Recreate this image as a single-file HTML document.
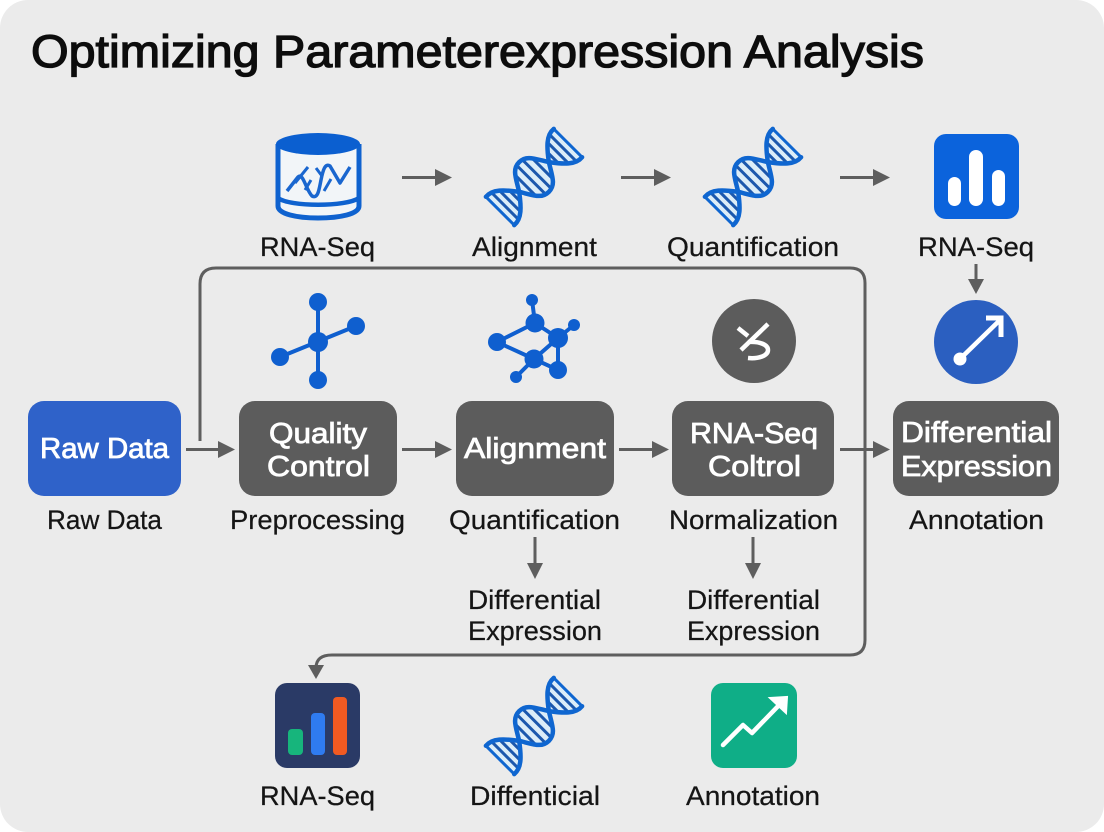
<!DOCTYPE html>
<html><head><meta charset="utf-8"><style>
html,body{margin:0;padding:0;background:#fff;width:1104px;height:832px;overflow:hidden}
svg{display:block}
text{font-family:"Liberation Sans",sans-serif}
.l{font-size:27px;fill:#151515;stroke:#151515;stroke-width:.25}
.b{font-size:29px;fill:#fff;stroke:#fff;stroke-width:.8}
.c{fill:none;stroke:#5e5e5e;stroke-width:3;stroke-linejoin:round}
.h{fill:#5e5e5e}
.m{stroke:#0f5fcf;stroke-width:4;fill:none}
.mn{fill:#0f5fcf}
</style></head><body>
<svg width="1104" height="832" viewBox="0 0 1104 832" xmlns="http://www.w3.org/2000/svg">
<defs>
<g id="dna" transform="rotate(-45)">
<path d="M-48,20 C-38,21 -30,12 -21,0 C-30,-12 -38,-21 -48,-20Z M-21,0 C-13,-13 -10,-21 0,-21 C10,-21 13,-13 21,0 C13,13 10,21 0,21 C-10,21 -13,13 -21,0Z M21,0 C30,12 38,21 48,20 L48,-20 C38,-21 30,-12 21,0Z" fill="#dcedf8"/>
<g stroke="#1c58ad" stroke-width="3" fill="none">
<path d="M-41,-19V19M-34,-15V15M-27,-8V8M-12,-14V14M-4,-20V20M4,-20V20M12,-14V14M27,-8V8M34,-15V15M41,-19V19"/>
</g>
<g stroke="#0f66d0" stroke-width="4.500" fill="none" stroke-linecap="round">
<path d="M-48,-20 C-38,-21 -30,-12 -21,0 C-13,13 -10,21 0,21 C10,21 13,13 21,0 C30,-12 38,-21 48,-20"/>
<path d="M-48,20 C-38,21 -30,12 -21,0 C-13,-13 -10,-21 0,-21 C10,-21 13,-13 21,0 C30,12 38,21 48,20"/>
<path d="M-48,-20V20M48,-20V20" stroke-width="3"/>
</g>
</g>
</defs>
<rect x="0" y="0" width="1104" height="832" rx="28" fill="#ebebeb"/>

<text x="31" y="67" font-size="45" fill="#0d0d0d" stroke="#0d0d0d" stroke-width="1.300" textLength="893" lengthAdjust="spacingAndGlyphs">Optimizing Parameterexpression Analysis</text>

<!-- cylinder -->
<path d="M278,144 V206 C278,214 297,218 318,218 C340,218 359,214 359,206 V144" fill="#f2f5f8" stroke="#0f62cf" stroke-width="5"/>
<ellipse cx="318" cy="144" rx="42" ry="11" fill="#0b5fd0"/>
<path d="M278,198 C290,207 346,207 359,198" fill="none" stroke="#0f62cf" stroke-width="4.500"/>
<path d="M287,191 L298,177 C303,172 306,190 312,196 C318,199 319,190 321,180 C323,170 325,163 330,166 L340,183 L350,167" fill="none" stroke="#1a66cf" stroke-width="3.500" stroke-linejoin="round"/>
<path d="M295,183 L308,167 M305,190 L311,180 M324,191 L331,179 M316,168 L322,176" fill="none" stroke="#1a66cf" stroke-width="3"/>

<use href="#dna" x="534" y="177"/>
<use href="#dna" x="753" y="177"/>
<use href="#dna" x="534" y="726"/>

<!-- blue bars -->
<rect x="934" y="134" width="85" height="85" rx="12" fill="#0b63dc"/>
<rect x="948" y="177" width="13" height="29" rx="6.500" fill="#fff"/>
<rect x="969" y="150" width="14" height="56" rx="7" fill="#fff"/>
<rect x="992" y="170" width="13" height="36" rx="6.500" fill="#fff"/>

<!-- top arrows -->
<path class="c" d="M402,177.500H440M621,177.500H659M840,177.500H878"/>
<path class="h" d="M435,169 L452,177.500 L435,186Z M654,169 L671,177.500 L654,186Z M873,169 L890,177.500 L873,186Z"/>

<text class="l" x="260" y="256" textLength="115" lengthAdjust="spacingAndGlyphs">RNA-Seq</text>
<text class="l" x="472" y="256" textLength="125" lengthAdjust="spacingAndGlyphs">Alignment</text>
<text class="l" x="667" y="256" textLength="172" lengthAdjust="spacingAndGlyphs">Quantification</text>
<text class="l" x="918" y="256" textLength="116" lengthAdjust="spacingAndGlyphs">RNA-Seq</text>

<!-- loop -->
<path class="c" d="M200,441 V284 Q200,268 216,268 H850 Q865,268 865,283 V640 Q865,655 850,655 H332 Q316,655 316,668"/>
<path class="h" d="M308,665 L324,665 L316,679Z"/>

<path class="c" d="M976,264V284"/>
<path class="h" d="M968,279 L984,279 L976,294Z"/>

<!-- molecule 1 -->
<path class="m" d="M318,302V380M280,357L356,326" stroke-width="5"/>
<g class="mn"><circle cx="318" cy="302" r="9"/><circle cx="356" cy="326" r="9"/><circle cx="280" cy="357" r="9"/><circle cx="318" cy="380" r="9"/><circle cx="318" cy="342" r="10"/></g>
<!-- molecule 2 -->
<path class="m" d="M532,300L535,323L558,338L574,325M535,323L497,342L534,359L558,338L558,370L534,359L516,377"/>
<g class="mn"><circle cx="532" cy="300" r="6"/><circle cx="535" cy="323" r="9.500"/><circle cx="574" cy="325" r="6"/><circle cx="558" cy="338" r="10"/><circle cx="497" cy="342" r="9"/><circle cx="534" cy="359" r="9.500"/><circle cx="558" cy="370" r="9"/><circle cx="516" cy="377" r="6"/></g>

<!-- dark circle -->
<circle cx="754" cy="341" r="42" fill="#5c5c5c"/>
<path d="M768,324 L741,350 M738,328 L748,336 M748,342 C760,341 768,345 768,350 C768,356 758,359 748,358" fill="none" stroke="#fff" stroke-width="4.500"/>

<!-- blue circle -->
<circle cx="976" cy="342" r="42" fill="#2b5fc0"/>
<path d="M962,357 L1000,320" stroke="#fff" stroke-width="4.500" fill="none"/>
<path d="M986,318 H1001 V337" stroke="#fff" stroke-width="5" fill="none"/>
<circle cx="960" cy="359" r="6.500" fill="#fff"/>

<!-- boxes -->
<rect x="28" y="401" width="153" height="95" rx="16" fill="#2f62c9"/>
<rect x="239" y="401" width="158" height="95" rx="16" fill="#5c5c5c"/>
<rect x="456" y="401" width="158" height="95" rx="16" fill="#5c5c5c"/>
<rect x="672" y="401" width="162" height="95" rx="16" fill="#5c5c5c"/>
<rect x="893" y="401" width="166" height="95" rx="16" fill="#5c5c5c"/>

<text class="b" x="40" y="458" textLength="129" lengthAdjust="spacingAndGlyphs">Raw Data</text>
<text class="b" x="269" y="443" textLength="98" lengthAdjust="spacingAndGlyphs">Quality</text>
<text class="b" x="267" y="476" textLength="103" lengthAdjust="spacingAndGlyphs">Control</text>
<text class="b" x="464" y="458" textLength="142" lengthAdjust="spacingAndGlyphs">Alignment</text>
<text class="b" x="690" y="443" textLength="128" lengthAdjust="spacingAndGlyphs">RNA-Seq</text>
<text class="b" x="708" y="476" textLength="93" lengthAdjust="spacingAndGlyphs">Coltrol</text>
<text class="b" x="901" y="442" textLength="151" lengthAdjust="spacingAndGlyphs">Differential</text>
<text class="b" x="901" y="476" textLength="151" lengthAdjust="spacingAndGlyphs">Expression</text>

<!-- mid arrows -->
<path class="c" d="M186,449.500H224M402,449.500H440M619,449.500H657M840,449.500H878"/>
<path class="h" d="M218,441 L235,449.500 L218,458Z M435,441 L452,449.500 L435,458Z M652,441 L669,449.500 L652,458Z M873,441 L890,449.500 L873,458Z"/>

<text class="l" x="47" y="529" textLength="115" lengthAdjust="spacingAndGlyphs">Raw Data</text>
<text class="l" x="230" y="529" textLength="175" lengthAdjust="spacingAndGlyphs">Preprocessing</text>
<text class="l" x="449" y="529" textLength="171" lengthAdjust="spacingAndGlyphs">Quantification</text>
<text class="l" x="669" y="529" textLength="169" lengthAdjust="spacingAndGlyphs">Normalization</text>
<text class="l" x="909" y="529" textLength="135" lengthAdjust="spacingAndGlyphs">Annotation</text>

<path class="c" d="M535,537V566M753,537V566"/>
<path class="h" d="M527,563 L543,563 L535,579Z M745,563 L761,563 L753,579Z"/>

<text class="l" x="468" y="609" textLength="133" lengthAdjust="spacingAndGlyphs">Differential</text>
<text class="l" x="468" y="640" textLength="134" lengthAdjust="spacingAndGlyphs">Expression</text>
<text class="l" x="687" y="609" textLength="133" lengthAdjust="spacingAndGlyphs">Differential</text>
<text class="l" x="687" y="640" textLength="133" lengthAdjust="spacingAndGlyphs">Expression</text>

<!-- bottom icons -->
<rect x="275" y="683" width="85" height="85" rx="12" fill="#2a3a66"/>
<rect x="288" y="729" width="15" height="26" rx="4" fill="#17b57c"/>
<rect x="311" y="713" width="14" height="42" rx="4" fill="#2f7bf0"/>
<rect x="333" y="697" width="14" height="58" rx="4" fill="#f05a22"/>

<rect x="711" y="683" width="86" height="85" rx="12" fill="#0fae87"/>
<path d="M723,745 L743,725 L752,733 L784,700" fill="none" stroke="#fff" stroke-width="4.500" stroke-linejoin="round" stroke-linecap="round"/>
<path d="M770,698 L787,697 L786,713Z" fill="#fff" stroke="#fff" stroke-width="2"/>

<text class="l" x="260" y="805" textLength="115" lengthAdjust="spacingAndGlyphs">RNA-Seq</text>
<text class="l" x="470" y="805" textLength="130" lengthAdjust="spacingAndGlyphs">Diffenticial</text>
<text class="l" x="686" y="805" textLength="134" lengthAdjust="spacingAndGlyphs">Annotation</text>
</svg>
</body></html>
